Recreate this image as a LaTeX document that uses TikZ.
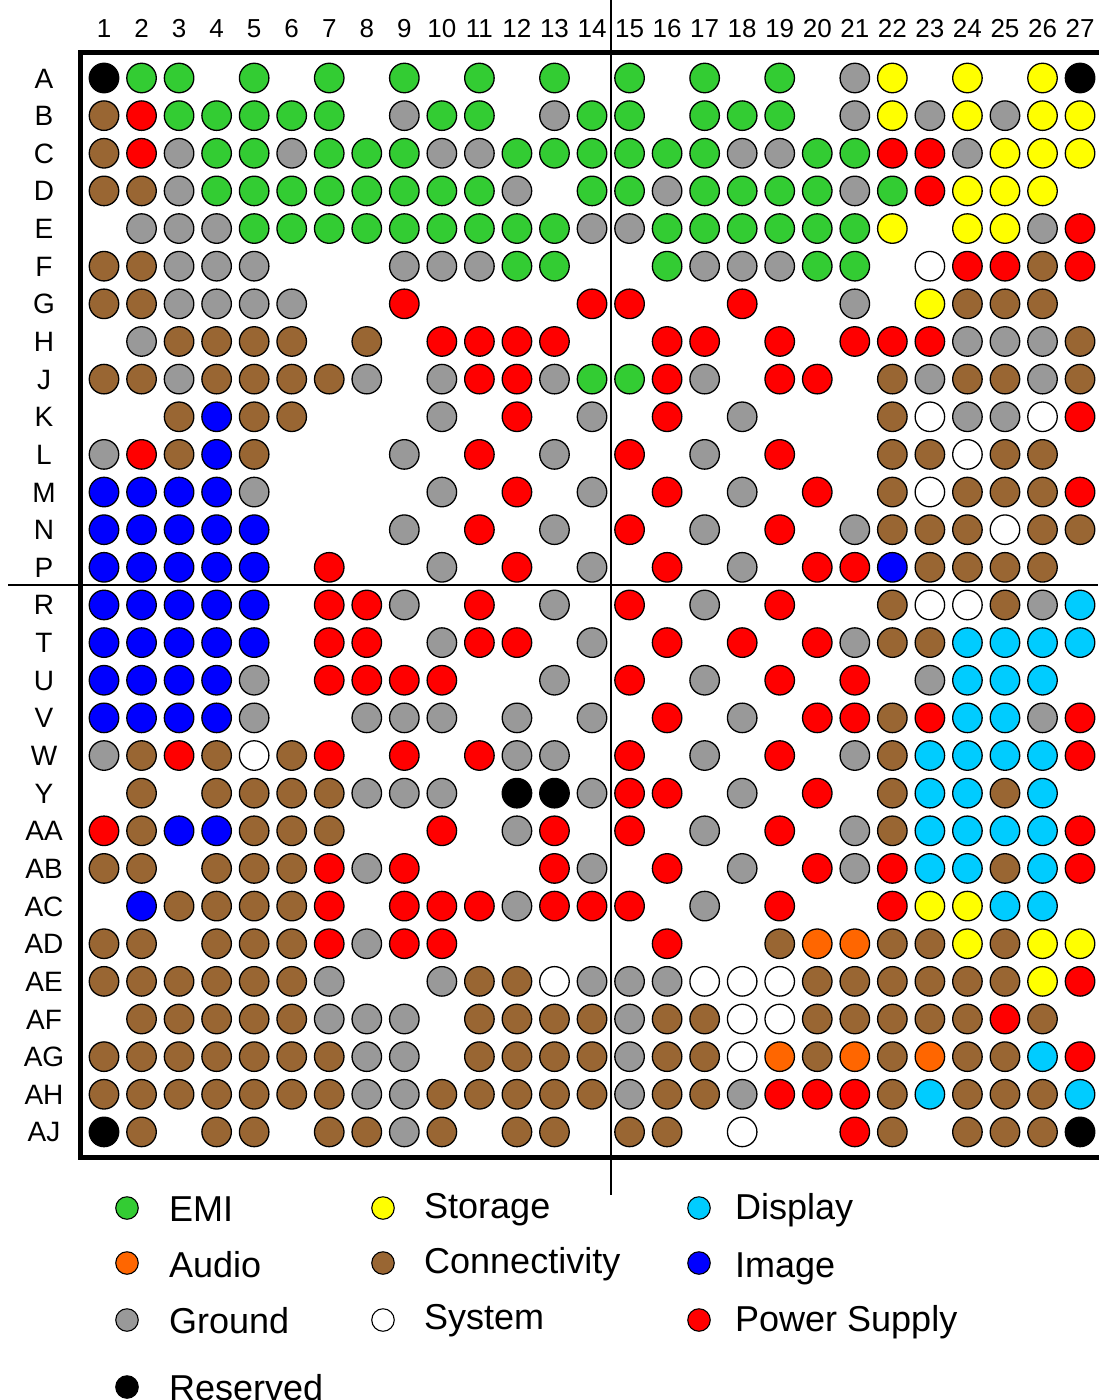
\documentclass[tikz,border=0pt]{standalone}
\usepackage{fontspec}
\setmainfont{Liberation Sans}
\definecolor{cemi}{HTML}{33CC33}
\definecolor{cstor}{HTML}{FFFF00}
\definecolor{cdisp}{HTML}{00CCFF}
\definecolor{caud}{HTML}{FF6600}
\definecolor{cconn}{HTML}{996633}
\definecolor{cimg}{HTML}{0000FF}
\definecolor{cgnd}{HTML}{999999}
\definecolor{cpow}{HTML}{FF0000}
\tikzset{
  pin/.style={circle, draw=black, line width=1.3pt, minimum size=29.5pt, inner sep=0pt},
  legpin/.style={circle, draw=black, line width=1.1pt, minimum size=22.5pt, inner sep=0pt},
  pin-g/.style={fill=cemi},
  pin-y/.style={fill=cstor},
  pin-c/.style={fill=cdisp},
  pin-o/.style={fill=caud},
  pin-n/.style={fill=cconn},
  pin-i/.style={fill=cimg},
  pin-x/.style={fill=cgnd},
  pin-p/.style={fill=cpow},
  pin-w/.style={fill=white},
  pin-k/.style={fill=black},
  collab/.style={font=\fontsize{26}{30}\selectfont, inner sep=0pt, anchor=base},
  rowlab/.style={font=\fontsize{28}{32}\selectfont, inner sep=0pt, anchor=base},
  legtxt/.style={font=\fontsize{36}{40}\selectfont, inner sep=0pt, anchor=base west},
  frameline/.style={line width=5pt, miter limit=10},
  thinline/.style={line width=2pt}
}
\begin{document}
\begin{tikzpicture}[x=1pt,y=-1pt]
\useasboundingbox (0,0) rectangle (1098,1400);
% divider lines
\draw[thinline] (611,0) -- (611,1195);
\draw[thinline] (8,585) -- (1098,585);
% frame
\draw[frameline] (1100,52.5) -- (80.5,52.5) -- (80.5,1157.5) -- (1100,1157.5);
% column numbers
\foreach \c in {1,...,27}
  \node[collab] (col-\c) at ({104+(\c-1)*37.54},37) {\c};
% rows
\foreach \lab/\codes [count=\r from 0] in {
 A/{k,g,g,e,g,e,g,e,g,e,g,e,g,e,g,e,g,e,g,e,x,y,e,y,e,y,k},
 B/{n,p,g,g,g,g,g,e,x,g,g,e,x,g,g,e,g,g,g,e,x,y,x,y,x,y,y},
 C/{n,p,x,g,g,x,g,g,g,x,x,g,g,g,g,g,g,x,x,g,g,p,p,x,y,y,y},
 D/{n,n,x,g,g,g,g,g,g,g,g,x,e,g,g,x,g,g,g,g,x,g,p,y,y,y,e},
 E/{e,x,x,x,g,g,g,g,g,g,g,g,g,x,x,g,g,g,g,g,g,y,e,y,y,x,p},
 F/{n,n,x,x,x,e,e,e,x,x,x,g,g,e,e,g,x,x,x,g,g,e,w,p,p,n,p},
 G/{n,n,x,x,x,x,e,e,p,e,e,e,e,p,p,e,e,p,e,e,x,e,y,n,n,n,e},
 H/{e,x,n,n,n,n,e,n,e,p,p,p,p,e,e,p,p,e,p,e,p,p,p,x,x,x,n},
 J/{n,n,x,n,n,n,n,x,e,x,p,p,x,g,g,p,x,e,p,p,e,n,x,n,n,x,n},
 K/{e,e,n,i,n,n,e,e,e,x,e,p,e,x,e,p,e,x,e,e,e,n,w,x,x,w,p},
 L/{x,p,n,i,n,e,e,e,x,e,p,e,x,e,p,e,x,e,p,e,e,n,n,w,n,n,e},
 M/{i,i,i,i,x,e,e,e,e,x,e,p,e,x,e,p,e,x,e,p,e,n,w,n,n,n,p},
 N/{i,i,i,i,i,e,e,e,x,e,p,e,x,e,p,e,x,e,p,e,x,n,n,n,w,n,n},
 P/{i,i,i,i,i,e,p,e,e,x,e,p,e,x,e,p,e,x,e,p,p,i,n,n,n,n,e},
 R/{i,i,i,i,i,e,p,p,x,e,p,e,x,e,p,e,x,e,p,e,e,n,w,w,n,x,c},
 T/{i,i,i,i,i,e,p,p,e,x,p,p,e,x,e,p,e,p,e,p,x,n,n,c,c,c,c},
 U/{i,i,i,i,x,e,p,p,p,p,e,e,x,e,p,e,x,e,p,e,p,e,x,c,c,c,e},
 V/{i,i,i,i,x,e,e,x,x,x,e,x,e,x,e,p,e,x,e,p,p,n,p,c,c,x,p},
 W/{x,n,p,n,w,n,p,e,p,e,p,x,x,e,p,e,x,e,p,e,x,n,c,c,c,c,p},
 Y/{e,n,e,n,n,n,n,x,x,x,e,k,k,x,p,p,e,x,e,p,e,n,c,c,n,c,e},
 AA/{p,n,i,i,n,n,n,e,e,p,e,x,p,e,p,e,x,e,p,e,x,n,c,c,c,c,p},
 AB/{n,n,e,n,n,n,p,x,p,e,e,e,p,x,e,p,e,x,e,p,x,p,c,c,n,c,p},
 AC/{e,i,n,n,n,n,p,e,p,p,p,x,p,p,p,e,x,e,p,e,e,p,y,y,c,c,e},
 AD/{n,n,e,n,n,n,p,x,p,p,e,e,e,e,e,p,e,e,n,o,o,n,n,y,n,y,y},
 AE/{n,n,n,n,n,n,x,e,e,x,n,n,w,x,x,x,w,w,w,n,n,n,n,n,n,y,p},
 AF/{e,n,n,n,n,n,x,x,x,e,n,n,n,n,x,n,n,w,w,n,n,n,n,n,p,n,e},
 AG/{n,n,n,n,n,n,n,x,x,e,n,n,n,n,x,n,n,w,o,n,o,n,o,n,n,c,p},
 AH/{n,n,n,n,n,n,n,x,x,n,n,n,n,n,x,n,n,x,p,p,p,n,c,n,n,n,c},
 AJ/{k,n,e,n,n,e,n,n,x,n,e,n,n,e,n,n,e,w,e,e,p,n,e,n,n,n,k}}{
  \pgfmathsetmacro\yy{78+\r*37.64}
  \node[rowlab] (row-\r) at (44,\yy+10) {\lab};
  \foreach \code [count=\c from 0] in \codes {
    \if e\code\else
      \pgfmathsetmacro\xx{104+\c*37.54}
      \node[pin, pin-\code] (pin-\r-\c) at (\xx,\yy) {};
    \fi
  }
}
% legend
\node[legpin, pin-g] (leg-emi) at (127,1208) {};
\node[legtxt] (legt-emi) at (169,1221) {EMI};
\node[legpin, pin-o] (leg-aud) at (127,1263) {};
\node[legtxt] (legt-aud) at (169,1277) {Audio};
\node[legpin, pin-x] (leg-gnd) at (127,1320) {};
\node[legtxt] (legt-gnd) at (169,1333) {Ground};
\node[legpin, pin-k] (leg-res) at (127,1387) {};
\node[legtxt] (legt-res) at (169,1400) {Reserved};
\node[legpin, pin-y] (leg-stor) at (383,1208) {};
\node[legtxt] (legt-stor) at (424,1218) {Storage};
\node[legpin, pin-n] (leg-conn) at (383,1263) {};
\node[legtxt] (legt-conn) at (424,1273) {Connectivity};
\node[legpin, pin-w] (leg-sys) at (383,1320) {};
\node[legtxt] (legt-sys) at (424,1329) {System};
\node[legpin, pin-c] (leg-disp) at (699,1208) {};
\node[legtxt] (legt-disp) at (735,1219) {Display};
\node[legpin, pin-i] (leg-img) at (699,1263) {};
\node[legtxt] (legt-img) at (735,1277) {Image};
\node[legpin, pin-p] (leg-pow) at (699,1320) {};
\node[legtxt] (legt-pow) at (735,1331) {Power Supply};
\end{tikzpicture}
\end{document}
